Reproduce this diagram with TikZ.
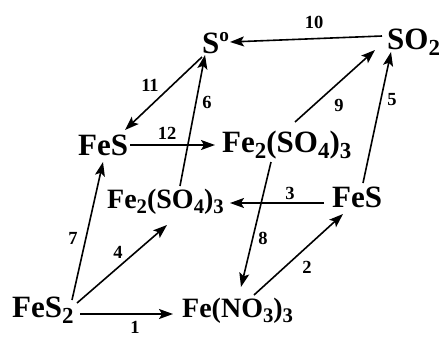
\documentclass[tikz,border=0pt]{standalone}
\usepackage{fontspec}
\usepackage{graphicx}
\setmainfont{Liberation Serif}
\usetikzlibrary{arrows.meta}
\newcommand\lowsub[1]{\raisebox{-0.2em}{\scalebox{0.74}{#1}}}
\newcommand\highsup[1]{\raisebox{0.38em}{\scalebox{0.62}{#1}}}
\begin{document}
\begin{tikzpicture}[x=1pt,y=-1pt,
  big/.style={anchor=base west,inner sep=0pt,font=\bfseries\fontsize{31}{31}\selectfont},
  mid/.style={anchor=base west,inner sep=0pt,font=\bfseries\fontsize{28}{28}\selectfont},
  num/.style={inner sep=0pt,font=\bfseries\fontsize{18.5}{18.5}\selectfont},
  arr/.style={-{Stealth[length=14pt,width=10pt,inset=3pt]},line width=1.6pt}]
\useasboundingbox (0,0) rectangle (444,338);
\node[big] (S0) at (202,53) {S\highsup{o}};
\node[big] (SO2) at (387,49) {SO\lowsub{2}};
\node[big] (FeSL) at (78,155) {FeS};
\node[big] (FeU) at (222,152) {Fe\lowsub{2}(SO\lowsub{4})\lowsub{3}};
\node[mid] (FeL) at (107,208) {Fe\lowsub{2}(SO\lowsub{4})\lowsub{3}};
\node[big] (FeSR) at (332,207) {FeS};
\node[big] (FeS2) at (12,317) {FeS\lowsub{2}};
\node[mid] (FeN) at (182,317) {Fe(NO\lowsub{3})\lowsub{3}};
% arrows
\draw[arr] ([shift={(68,-3)}]FeS2.base west) -- ([shift={(-9,-3)}]FeN.base west);
\draw[arr] ([shift={(72,-22)}]FeN.base west) -- ([shift={(11,7)}]FeSR.base west);
\draw[arr] ([shift={(-8,-4)}]FeSR.base west) -- ([shift={(123,-5)}]FeL.base west);
\draw[arr] ([shift={(65,-14)}]FeS2.base west) -- ([shift={(60,17)}]FeL.base west);
\draw[arr] ([shift={(31,-24)}]FeSR.base west) -- ([shift={(4,3)}]SO2.base west);
\draw[arr] ([shift={(73,-22)}]FeL.base west) -- ([shift={(3,2)}]S0.base west);
\draw[arr] ([shift={(60,-17)}]FeS2.base west) -- ([shift={(25,7)}]FeSL.base west);
\draw[arr] ([shift={(49,10)}]FeU.base west) -- ([shift={(59,-30)}]FeN.base west);
\draw[arr] ([shift={(73,-30)}]FeU.base west) -- ([shift={(-12,1)}]SO2.base west);
\draw[arr] ([shift={(-5,-13)}]SO2.base west) -- ([shift={(28,-11)}]S0.base west);
\draw[arr] ([shift={(0,4)}]S0.base west) -- ([shift={(47,-25)}]FeSL.base west);
\draw[arr] ([shift={(52,-10)}]FeSL.base west) -- ([shift={(-7,-7)}]FeU.base west);
% labels
\node[num] (l1) at (135,327) {1};
\node[num] (l2) at (307,267) {2};
\node[num] (l3) at (290,193) {3};
\node[num] (l4) at (118,252) {4};
\node[num] (l5) at (392,100) {5};
\node[num] (l6) at (207,102) {6};
\node[num] (l7) at (73,238) {7};
\node[num] (l8) at (263,238) {8};
\node[num] (l9) at (339,105) {9};
\node[num] (l10) at (314,22) {10};
\node[num] (l11) at (150,85) {11};
\node[num] (l12) at (167,133) {12};
\end{tikzpicture}
\end{document}
